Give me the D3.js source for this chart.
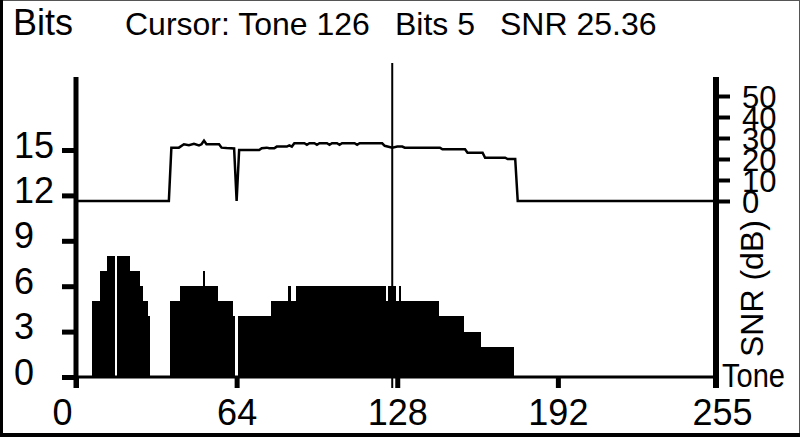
<!DOCTYPE html>
<html>
<head>
<meta charset="utf-8">
<script src="https://cdn.jsdelivr.net/npm/d3@7"></script>
<style>
  body { margin: 0; background: #fff; }
  svg { display: block; font-family: "Liberation Sans", Arial, sans-serif; }
</style>
</head>
<body>
<div id="chart-area"></div>
<script>
const bitTicks = [0, 3, 6, 9, 12, 15];
const snrTicks = [0, 10, 20, 30, 40, 50];
const toneTicks = [0, 64, 128, 192, 255];

// bit loading, read as runs of tones with the same bit count
const runStart = [7, 10, 13, 17, 22, 26, 27, 29, 38, 42, 51, 52, 57, 63, 65, 78, 85, 86, 88, 124, 125, 128, 129, 130, 145, 155, 162];
const runEnd = [9, 12, 15, 21, 25, 26, 28, 29, 41, 50, 51, 56, 62, 63, 77, 84, 85, 87, 123, 124, 127, 128, 129, 144, 154, 161, 174];
const runBits = [5, 7, 8, 8, 7, 6, 5, 4, 5, 6, 7, 6, 5, 4, 4, 5, 6, 5, 6, 5, 6, 5, 6, 5, 4, 3, 2];

// SNR trace (dB) per tone
const snrTone = [0, 37, 38, 41, 43, 45, 47, 49, 50, 51, 52, 57, 58, 60, 63, 64, 65, 73, 74, 76, 77, 79, 80, 84, 85, 86, 87, 91, 92, 93, 95, 96, 97, 100, 101, 102, 104, 105, 106, 111, 112, 113, 122, 123, 126, 128, 130, 131, 145, 146, 155, 156, 162, 163, 171, 172, 175, 176, 255];
const snrDb = [0, 0, 25.4, 25.4, 27.0, 26.6, 27.2, 26.5, 27.0, 28.7, 27.0, 27.0, 25.4, 25.2, 25.0, 0, 24.3, 24.3, 25.1, 25.4, 25.1, 25.1, 25.9, 25.9, 26.5, 25.9, 27.5, 27.5, 26.8, 27.5, 27.5, 26.8, 27.5, 27.5, 26.8, 27.5, 27.5, 26.8, 27.5, 27.5, 26.8, 27.5, 27.5, 26.3, 25.4, 25.9, 25.9, 25.4, 25.4, 24.6, 24.6, 23.0, 23.0, 20.6, 20.6, 20.0, 20.0, 0, 0];

const cursorTone = 126;
const cursorBits = 5;
const cursorSnr = 25.36;

const font = "Liberation Sans, Arial, sans-serif";

const drawChart = () => {
  const chartSize = { width: 800, height: 437 };

  const x = d3.scaleLinear().domain([0, 255]).range([76, 716]);
  const yBits = d3.scaleLinear().domain([0, 15]).range([377, 150]);
  const ySnr = d3.scaleLinear().domain([0, 50]).range([201, 96]);

  const svg = d3
    .select("#chart-area")
    .append("svg")
    .attr("width", chartSize.width)
    .attr("height", chartSize.height);

  svg.append("rect")
    .attr("width", chartSize.width)
    .attr("height", chartSize.height)
    .attr("fill", "#fff");

  // frame around the picture
  svg.append("line").attr("x1", 0).attr("x2", 800).attr("y1", 0.5).attr("y2", 0.5)
    .attr("stroke", "#555").attr("stroke-width", 1);
  svg.append("line").attr("x1", 799.5).attr("x2", 799.5).attr("y1", 0).attr("y2", 437)
    .attr("stroke", "#555").attr("stroke-width", 1);
  svg.append("line").attr("x1", 1.5).attr("x2", 1.5).attr("y1", 0).attr("y2", 437)
    .attr("stroke", "#000").attr("stroke-width", 3);
  svg.append("line").attr("x1", 0).attr("x2", 800).attr("y1", 435).attr("y2", 435)
    .attr("stroke", "#000").attr("stroke-width", 4);

  // titles
  svg.append("text").attr("x", 13).attr("y", 35)
    .attr("font-size", 36).text("Bits");
  svg.append("text").attr("x", 125).attr("y", 35)
    .attr("font-size", 32).text(`Cursor: Tone ${cursorTone}`);
  svg.append("text").attr("x", 395).attr("y", 35)
    .attr("font-size", 32).text(`Bits ${cursorBits}`);
  svg.append("text").attr("x", 500).attr("y", 35)
    .attr("font-size", 32).text(`SNR ${cursorSnr}`);

  // bits bars, each tone centred on its position
  const edge = t => Math.round(x(t));
  svg.append("g")
    .attr("shape-rendering", "crispEdges")
    .selectAll("rect")
    .data(d3.range(runStart.length))
    .enter()
    .append("rect")
    .attr("x", i => edge(runStart[i] - 0.5))
    .attr("width", i => edge(runEnd[i] + 0.5) - edge(runStart[i] - 0.5))
    .attr("y", i => Math.round(yBits(runBits[i])))
    .attr("height", i => Math.round(yBits(0)) - Math.round(yBits(runBits[i])) + 1)
    .attr("fill", "#000");

  // SNR trace
  const line = d3.line()
    .x(i => x(snrTone[i]))
    .y(i => ySnr(snrDb[i]));
  svg.append("path")
    .datum(d3.range(snrTone.length))
    .attr("d", line)
    .attr("fill", "none")
    .attr("stroke", "#000")
    .attr("stroke-width", 2.5);

  // baseline
  svg.append("line")
    .attr("x1", x(0)).attr("x2", x(255))
    .attr("y1", yBits(0)).attr("y2", yBits(0))
    .attr("stroke", "#000").attr("stroke-width", 3);

  // left axis
  const left = svg.append("g")
    .attr("transform", `translate(${x(0)},0)`)
    .call(d3.axisLeft(yBits).tickValues(bitTicks).tickSize(14).tickSizeOuter(0));
  left.attr("font-size", 36).attr("font-family", font);
  left.select(".domain").remove();
  left.selectAll(".tick line").attr("stroke-width", 5);
  left.selectAll(".tick text")
    .attr("x", 14 - x(0))
    .attr("y", 7)
    .attr("dy", 0)
    .attr("text-anchor", "start");

  // right axis
  const right = svg.append("g")
    .attr("transform", `translate(${x(255)},0)`)
    .call(d3.axisRight(ySnr).tickValues(snrTicks).tickSize(14).tickSizeOuter(0));
  right.attr("font-size", 31).attr("font-family", font);
  right.select(".domain").remove();
  right.selectAll(".tick line").attr("stroke-width", 4);
  right.selectAll(".tick text")
    .attr("x", 26)
    .attr("dy", "0.36em")
    .attr("text-anchor", "start");

  // bottom axis
  const bottom = svg.append("g")
    .attr("transform", `translate(0,${yBits(0)})`)
    .call(d3.axisBottom(x).tickValues(toneTicks).tickSize(11).tickSizeOuter(0));
  bottom.attr("font-size", 36).attr("font-family", font);
  bottom.select(".domain").remove();
  bottom.selectAll(".tick line").attr("stroke-width", 5);
  bottom.selectAll(".tick text")
    .attr("x", d => (d === 0 ? -14 : d === 255 ? 6 : 0))
    .attr("y", 48)
    .attr("dy", 0);

  // axis spines
  svg.append("line")
    .attr("x1", x(0)).attr("x2", x(0)).attr("y1", 77).attr("y2", 388)
    .attr("stroke", "#000").attr("stroke-width", 5);
  svg.append("line")
    .attr("x1", x(255)).attr("x2", x(255)).attr("y1", 77).attr("y2", 388)
    .attr("stroke", "#000").attr("stroke-width", 6);

  // cursor
  svg.append("line")
    .attr("x1", x(cursorTone)).attr("x2", x(cursorTone))
    .attr("y1", 63).attr("y2", 388)
    .attr("stroke", "#000").attr("stroke-width", 2);

  // axis titles
  svg.append("text")
    .attr("transform", "translate(763,357) rotate(-90)")
    .attr("font-size", 32)
    .text("SNR (dB)");
  svg.append("text")
    .attr("x", 722).attr("y", 387)
    .attr("font-size", 34)
    .attr("textLength", 63)
    .attr("lengthAdjust", "spacingAndGlyphs")
    .text("Tone");
};

window.onload = drawChart;
</script>
</body>
</html>
